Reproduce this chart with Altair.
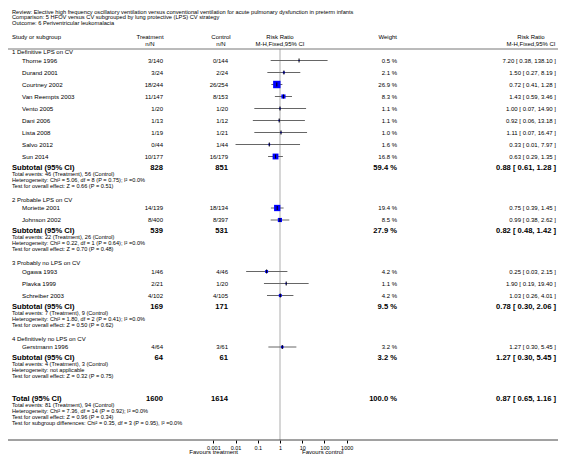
import altair as alt
import pandas as pd

# ---------------- data ----------------
review_lines = [
    "Review:  Elective high frequency oscillatory ventilation versus conventional ventilation for acute pulmonary dysfunction in preterm infants",
    "Comparison:  5 HFOV versus CV subgrouped by lung protective (LPS) CV strategy",
    "Outcome:  6 Periventricular leukomalacia",
]

group_labels = [
    "1 Definitive LPS on CV",
    "2 Probable LPS on CV",
    "3 Probably no LPS on CV",
    "4 Definitively no LPS on CV",
]

study_names = ["Thorne 1996", "Durand 2001", "Courtney 2002", "Van Reempts 2003", "Vento 2005",
               "Dani 2006", "Lista 2008", "Salvo 2012", "Sun 2014",
               "Moriette 2001", "Johnson 2002",
               "Ogawa 1993", "Plavka 1999", "Schreiber 2003",
               "Gerstmann 1996"]
study_group = [0, 0, 0, 0, 0, 0, 0, 0, 0, 1, 1, 2, 2, 2, 3]
treat_events = [3, 3, 18, 11, 1, 1, 1, 0, 10, 14, 8, 1, 2, 4, 4]
treat_total = [140, 24, 244, 147, 20, 13, 19, 44, 177, 139, 400, 46, 21, 102, 64]
ctrl_events = [0, 2, 26, 8, 1, 1, 1, 1, 16, 18, 8, 4, 1, 4, 3]
ctrl_total = [144, 24, 254, 153, 20, 12, 21, 44, 179, 134, 397, 46, 20, 105, 61]
weights = [0.5, 2.1, 26.9, 8.3, 1.1, 1.1, 1.0, 1.6, 16.8, 19.4, 8.5, 4.2, 1.1, 4.2, 3.2]
rr = [7.20, 1.50, 0.72, 1.43, 1.00, 0.92, 1.11, 0.33, 0.63, 0.75, 0.99, 0.25, 1.90, 1.03, 1.27]
rr_lo = [0.38, 0.27, 0.41, 0.59, 0.07, 0.06, 0.07, 0.01, 0.29, 0.39, 0.38, 0.03, 0.19, 0.26, 0.30]
rr_hi = [138.10, 8.19, 1.28, 3.46, 14.90, 13.18, 16.47, 7.97, 1.35, 1.45, 2.62, 2.15, 19.40, 4.01, 5.45]

sub_treat_n = [828, 539, 169, 64]
sub_ctrl_n = [851, 531, 171, 61]
sub_weight = [59.4, 27.9, 9.5, 3.2]
sub_rr = [0.88, 0.82, 0.78, 1.27]
sub_lo = [0.61, 0.48, 0.30, 0.30]
sub_hi = [1.28, 1.42, 2.06, 5.45]
sub_ev_t = [46, 22, 7, 4]
sub_ev_c = [56, 26, 9, 3]
sub_het = [
    "Heterogeneity: Chi\u00b2 = 5.06, df = 8 (P = 0.75); I\u00b2 =0.0%",
    "Heterogeneity: Chi\u00b2 = 0.22, df = 1 (P = 0.64); I\u00b2 =0.0%",
    "Heterogeneity: Chi\u00b2 = 1.80, df = 2 (P = 0.41); I\u00b2 =0.0%",
    "Heterogeneity: not applicable",
]
sub_z = [
    "Test for overall effect: Z = 0.66 (P = 0.51)",
    "Test for overall effect: Z = 0.70 (P = 0.48)",
    "Test for overall effect: Z = 0.50 (P = 0.62)",
    "Test for overall effect: Z = 0.32 (P = 0.75)",
]

total_n = [1600, 1614]
total_weight = 100.0
total_rr, total_lo, total_hi = 0.87, 0.65, 1.16
total_ev = [81, 94]
total_lines = [
    "Heterogeneity: Chi\u00b2 = 7.36, df = 14 (P = 0.92); I\u00b2 =0.0%",
    "Test for overall effect: Z = 0.96 (P = 0.34)",
    "Test for subgroup differences: Chi\u00b2 = 0.35, df = 3 (P = 0.95), I\u00b2 =0.0%",
]
tick_values = [0.001, 0.01, 0.1, 1, 10, 100, 1000]
favours = ["Favours treatment", "Favours control"]

# ---------------- layout (page coordinates) ----------------
FONT = "Liberation Sans"
M = 8  # page margin

group_y, study_y, sub_y, sub_lines_y = [], [], [], []
y = 52.0
for g in range(len(group_labels)):
    group_y.append(y)
    y += 8.5
    for i, sg in enumerate(study_group):
        if sg == g:
            study_y.append(y)
            y += 12
    y = y - 12 + 11
    sub_y.append(y)
    lines = [y + 6, y + 12, y + 18]
    sub_lines_y.append(lines)
    y = lines[-1] + 14
tot_y = sub_lines_y[-1][-1] + 23
tot_lines_y = [tot_y + 6 * (k + 1) for k in range(4)]

yscale = alt.Scale(domain=[M, 440], range=[0, 440 - M], nice=False, zero=False)
xscale = alt.Scale(type="log", domain=[0.001, 1000], range=[213.3 - M, 346.7 - M], nice=False)
xaxis = alt.Axis(values=tick_values, format="~g", domain=False, grid=False, ticks=True,
                 tickSize=3, tickColor="black", tickWidth=1, labelFontSize=5.5, labelFont=FONT,
                 labelColor="black", labelPadding=2, labelFlush=False, title=None)


def fmt_ci(a, b, c):
    return f"{a:.2f} [ {b:.2f}, {c:.2f} ]"


def text_layer(df, xpx, align="left", size=6.2, weight="normal"):
    return alt.Chart(df).mark_text(
        align=align, baseline="middle", fontSize=size, fontWeight=weight, font=FONT, color="black"
    ).encode(
        x=alt.value(xpx - M),
        y=alt.Y("y:Q", scale=yscale, axis=None),
        text="t:N",
    )


layers = []

# null line
null_df = pd.DataFrame({"v": [1.0], "y0": [49.0], "y1": [440.0]})
layers.append(alt.Chart(null_df).mark_rule(color="#c8c8c8", strokeWidth=1.5).encode(
    x=alt.X("v:Q", scale=xscale, axis=xaxis),
    y=alt.Y("y0:Q", scale=yscale, axis=None), y2="y1:Q"))

# header and axis lines
layers.append(alt.Chart(pd.DataFrame({"y": [49.0]})).mark_rule(color="#777777", strokeWidth=1).encode(
    x=alt.value(4 - M), x2=alt.value(562 - M), y=alt.Y("y:Q", scale=yscale, axis=None)))
layers.append(alt.Chart(pd.DataFrame({"y": [440.0]})).mark_rule(color="#444444", strokeWidth=1).encode(
    x=alt.value(4 - M), x2=alt.value(562 - M), y=alt.Y("y:Q", scale=yscale, axis=None)))

# study CIs, squares, point ticks
sdf = pd.DataFrame({"y": study_y, "rr": rr, "lo": rr_lo, "hi": rr_hi, "w": weights})
sdf["t0"] = sdf["y"] - 2
sdf["t1"] = sdf["y"] + 2
layers.append(alt.Chart(sdf).mark_rule(color="#666666", strokeWidth=1).encode(
    x=alt.X("lo:Q", scale=xscale, axis=xaxis), x2="hi:Q",
    y=alt.Y("y:Q", scale=yscale, axis=None)))
layers.append(alt.Chart(sdf).mark_square(color="#0000ff", opacity=1).encode(
    x=alt.X("rr:Q", scale=xscale, axis=xaxis),
    y=alt.Y("y:Q", scale=yscale, axis=None),
    size=alt.Size("w:Q", scale=alt.Scale(domain=[0, 26.9], range=[0, 55]), legend=None)))
layers.append(alt.Chart(sdf).mark_rule(color="black", strokeWidth=1).encode(
    x=alt.X("rr:Q", scale=xscale, axis=xaxis),
    y=alt.Y("t0:Q", scale=yscale, axis=None), y2="t1:Q"))

# diamonds (subtotals + total)
drows = []
H = 3.5
dlist = list(zip(sub_y, sub_rr, sub_lo, sub_hi)) + [(tot_y, total_rr, total_lo, total_hi)]
for k, (cy, est, lo, hi) in enumerate(dlist):
    drows.append({"id": k, "x": lo, "top": cy, "bot": cy})
    drows.append({"id": k, "x": est, "top": cy - H, "bot": cy + H})
    drows.append({"id": k, "x": hi, "top": cy, "bot": cy})
ddf = pd.DataFrame(drows)
layers.append(alt.Chart(ddf).mark_area(color="black", orient="vertical", opacity=1).encode(
    x=alt.X("x:Q", scale=xscale, axis=xaxis),
    y=alt.Y("top:Q", scale=yscale, axis=None), y2="bot:Q",
    detail="id:N", order="x:Q"))

# ---------------- text ----------------
layers.append(text_layer(pd.DataFrame({"y": [11.5, 17, 22.5], "t": review_lines}), 12, size=5.7))

hdr = [(37, "Study or subgroup", 12, "left"), (37, "Treatment", 150, "center"), (43.5, "n/N", 150, "center"),
       (37, "Control", 221, "center"), (43.5, "n/N", 221, "center"),
       (37, "Risk Ratio", 280, "center"), (43.5, "M-H,Fixed,95% CI", 280, "center"),
       (37, "Weight", 397, "right"),
       (37, "Risk Ratio", 531, "center"), (43.5, "M-H,Fixed,95% CI", 531, "center")]
for hy, ht, hx, ha in hdr:
    layers.append(text_layer(pd.DataFrame({"y": [hy], "t": [ht]}), hx, ha, size=6))

layers.append(text_layer(pd.DataFrame({"y": group_y, "t": group_labels}), 12, size=6))
layers.append(text_layer(pd.DataFrame({"y": study_y, "t": study_names}), 22, size=6.2))
layers.append(text_layer(pd.DataFrame({"y": study_y, "t": [f"{a}/{b}" for a, b in zip(treat_events, treat_total)]}), 163, "right", size=6))
layers.append(text_layer(pd.DataFrame({"y": study_y, "t": [f"{a}/{b}" for a, b in zip(ctrl_events, ctrl_total)]}), 228, "right", size=6))
layers.append(text_layer(pd.DataFrame({"y": study_y, "t": [f"{w:.1f} %" for w in weights]}), 397, "right", size=6))
layers.append(text_layer(pd.DataFrame({"y": study_y, "t": [fmt_ci(a, b, c) for a, b, c in zip(rr, rr_lo, rr_hi)]}), 556, "right", size=6))

bold_y = sub_y + [tot_y]
layers.append(text_layer(pd.DataFrame({"y": bold_y, "t": ["Subtotal (95% CI)"] * 4 + ["Total (95% CI)"]}), 12, size=7.6, weight="bold"))
layers.append(text_layer(pd.DataFrame({"y": bold_y, "t": [str(v) for v in sub_treat_n + [total_n[0]]]}), 163, "right", size=7.6, weight="bold"))
layers.append(text_layer(pd.DataFrame({"y": bold_y, "t": [str(v) for v in sub_ctrl_n + [total_n[1]]]}), 228, "right", size=7.6, weight="bold"))
layers.append(text_layer(pd.DataFrame({"y": bold_y, "t": [f"{w:.1f} %" for w in sub_weight + [total_weight]]}), 397, "right", size=7.6, weight="bold"))
layers.append(text_layer(pd.DataFrame({"y": bold_y, "t": [fmt_ci(a, b, c) for a, b, c in zip(sub_rr + [total_rr], sub_lo + [total_lo], sub_hi + [total_hi])]}), 556, "right", size=7.6, weight="bold"))

st_y, st_t = [], []
for g in range(len(group_labels)):
    st_y += sub_lines_y[g]
    st_t += [f"Total events: {sub_ev_t[g]} (Treatment), {sub_ev_c[g]} (Control)", sub_het[g], sub_z[g]]
st_y += tot_lines_y
st_t += [f"Total events: {total_ev[0]} (Treatment), {total_ev[1]} (Control)"] + total_lines
layers.append(text_layer(pd.DataFrame({"y": st_y, "t": st_t}), 12, size=5.6))

layers.append(text_layer(pd.DataFrame({"y": [452], "t": [favours[0]]}), 238, "right", size=6))
layers.append(text_layer(pd.DataFrame({"y": [452], "t": [favours[1]]}), 302, "left", size=6))

chart = alt.layer(*layers).properties(
    width=550, height=440 - M,
    padding={"left": 0, "top": 0, "right": 0, "bottom": 19},
    autosize=alt.AutoSizeParams(type="none"),
).configure_view(strokeWidth=0)

chart.save("out.html", embed_options={"renderer": "svg", "actions": False})
